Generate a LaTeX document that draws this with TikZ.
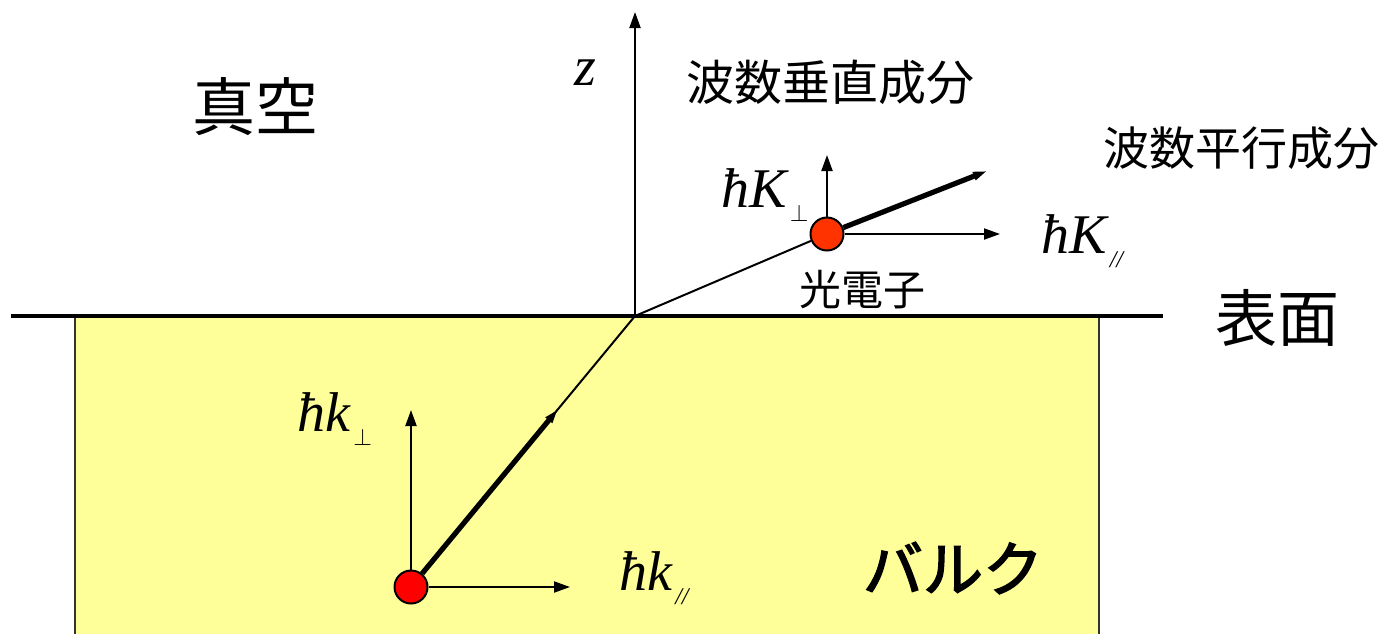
\documentclass[tikz,border=0pt]{standalone}
\usepackage{amsmath}
\usepackage{fontspec}
\newfontfamily\jp{Noto Sans CJK JP}
\newfontfamily\jpbold[FakeBold=2.5]{Noto Sans CJK JP}
\newfontfamily\tms{Liberation Serif}
\newcommand{\lowsub}[1]{\hspace{1.5pt}\raisebox{-7pt}{\fontsize{12}{14}\selectfont #1}}
\usetikzlibrary{arrows.meta,positioning,calc}
\definecolor{bulkyellow}{HTML}{FFFF99}
\definecolor{photored}{HTML}{FF3300}

\begin{document}
\begin{tikzpicture}[x=0.5pt,y=-0.5pt,
    vec/.style={line width=1pt,-{Triangle[length=8pt,width=5.5pt]}},
    fatvec/.style={line width=2.6pt,-{Triangle[length=7pt,width=4pt]}},
    electron/.style={circle,draw,line width=1pt,inner sep=0pt,minimum size=16.5pt},
    lbl/.style={inner sep=0pt},
    mlbl/.style={inner sep=0pt,anchor=base west,font=\tms\itshape\fontsize{28}{32}\selectfont}]
            \useasboundingbox (0,0) rectangle (1391,633);
            % bulk and surface
            \draw[fill=bulkyellow, draw=black!80, line width=1pt] (75,640) -- (75,316) -- (1099,316) -- (1099,640);
            \draw[line width=2pt] (11,316) -- (1163,316);
            \coordinate (O) at (635,316);
            \coordinate (ztip) at (635,12);
            \draw[vec] (O) -- (ztip);
            \node[mlbl] (zlab) at (574,85) {z};
            % photoelectron
            \node[electron, fill=photored] (pe) at (827,234) {};
            \coordinate (peup) at (827,155);
            \coordinate (peright) at (1000,234);
            \coordinate (peout) at (987,171);
            \draw[line width=1pt] (O) -- (pe);
            \draw[fatvec] (pe) -- (peout);
            \draw[vec] (pe) -- (peup);
            \draw[vec] (pe) -- (peright);
            % bulk electron
            \node[electron, fill=red] (be) at (411,587) {};
            \coordinate (beup) at (411,410);
            \coordinate (beright) at (570,587);
            \coordinate (bemid) at ($(be)!0.655!(O)$);
            \draw[line width=1pt] (be) -- (O);
            \draw[fatvec] (be) -- (bemid);
            \draw[vec] (be) -- (beup);
            \draw[vec] (be) -- (beright);
            % labels
            \node[mlbl] (Kperp) at (721,207) {ħK\lowsub{$\perp$}};
            \node[mlbl] (Kpar) at (1041,253) {ħK\lowsub{//}};
            \node[mlbl] (kperp) at (297,431) {ħk\lowsub{$\perp$}};
            \node[mlbl] (kpar) at (619,590) {ħk\lowsub{//}};
            \node[lbl] (vac) at (255,107) {\jp\fontsize{31.5}{36}\selectfont 真空};
            \node[lbl] (surf) at (1277,318) {\jp\fontsize{31}{36}\selectfont 表面};
            \node[lbl] (bulk) at (953,568) {\jpbold\fontsize{30}{36}\selectfont バルク};
            \node[lbl] (perp) at (830,82) {\jp\fontsize{24}{28}\selectfont 波数垂直成分};
            \node[lbl] (par) at (1241,148) {\jp\fontsize{23}{28}\selectfont 波数平行成分};
            \node[lbl] (pelab) at (862,290) {\jp\fontsize{21}{24}\selectfont 光電子};
        \end{tikzpicture}
\end{document}
